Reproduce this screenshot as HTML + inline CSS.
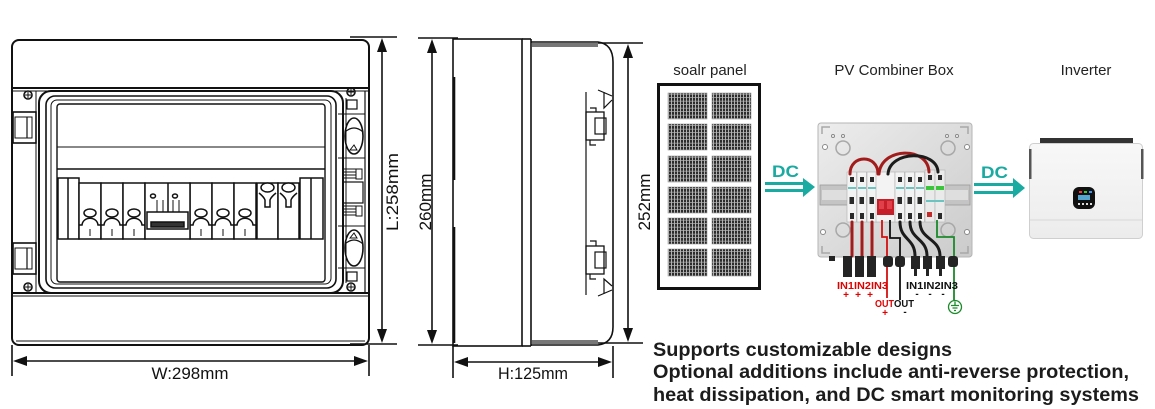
<!DOCTYPE html>
<html><head><meta charset="utf-8">
<style>
html,body{margin:0;padding:0;background:#fff;}
svg{display:block;}
text{font-family:"Liberation Sans",Arial,sans-serif;}
</style></head><body>
<svg width="1155" height="409" viewBox="0 0 1155 409" xmlns="http://www.w3.org/2000/svg">
<defs>
<pattern id="cell" width="3" height="3.5" patternUnits="userSpaceOnUse">
 <rect width="3" height="3.5" fill="#2c2c2c"/>
 <rect x="2.2" width="0.8" height="3.5" fill="#d0d0d0"/>
 <rect y="2.8" width="3" height="0.7" fill="#b8b8b8"/>
</pattern>
<linearGradient id="boxg" x1="0" y1="0" x2="1" y2="1">
 <stop offset="0" stop-color="#ededed"/><stop offset="1" stop-color="#cbcbcb"/>
</linearGradient>
<linearGradient id="invg" x1="0" y1="0" x2="0" y2="1">
 <stop offset="0" stop-color="#f8f8f8"/><stop offset="1" stop-color="#ececec"/>
</linearGradient>
</defs>

<!-- ================= FRONT VIEW ================= -->
<g fill="none" stroke="#111" stroke-width="1.6">
 <rect x="12" y="40" width="357" height="305" rx="7" stroke-width="2"/>
 <line x1="12" y1="88" x2="369" y2="88" stroke-width="2"/>
 <line x1="12" y1="91" x2="369" y2="91" stroke-width="1"/>
 <line x1="12" y1="293" x2="369" y2="293" stroke-width="2"/>
 <line x1="12" y1="296" x2="369" y2="296" stroke-width="1"/>
 <line x1="16" y1="341" x2="365" y2="341" stroke-width="1"/>
 <!-- door -->
 <rect x="39" y="91" width="304" height="202" rx="12" stroke-width="2"/>
 <rect x="46" y="96" width="290" height="192" rx="9"/>
 <rect x="51" y="100" width="280" height="184" rx="6" stroke-width="1"/>
 <rect x="57" y="104" width="268" height="178" rx="3" stroke-width="1.4"/>
 <line x1="57" y1="147" x2="325" y2="147" stroke-width="1"/>
 <line x1="57" y1="169" x2="325" y2="169" stroke-width="1.6"/>
 <!-- left hinges -->
 <line x1="36" y1="91" x2="36" y2="293" stroke-width="1"/>
 <rect x="13" y="112" width="23" height="31"/>
 <rect x="15" y="117" width="17" height="21" stroke-width="1"/>
 <line x1="27" y1="117" x2="27" y2="138" stroke-width="1.2"/>
 <rect x="13" y="243" width="23" height="31"/>
 <rect x="15" y="248" width="17" height="21" stroke-width="1"/>
 <line x1="27" y1="248" x2="27" y2="269" stroke-width="1.2"/>
 <!-- screws -->
 <circle cx="28" cy="95" r="4"/><path d="M25 95h6M28 92v6" stroke-width="1"/>
 <circle cx="28" cy="287" r="4"/><path d="M25 287h6M28 284v6" stroke-width="1"/>
 <circle cx="351" cy="92" r="4"/><path d="M348 92h6M351 89v6" stroke-width="1"/>
 <circle cx="351" cy="287" r="4"/><path d="M348 287h6M351 284v6" stroke-width="1"/>
 <!-- right latch strip -->
 <line x1="346" y1="98" x2="346" y2="283" stroke-width="1"/>
 <line x1="365" y1="91" x2="365" y2="293" stroke-width="1.2"/>
 <rect x="347" y="100" width="10" height="9" stroke-width="1.2"/>
 <line x1="338" y1="114" x2="365" y2="114" stroke-width="1"/>
 <ellipse cx="354" cy="136" rx="9" ry="18" stroke-width="1.6"/>
 <path d="M345 132 Q354 124 363 132" stroke-width="1.2"/>
 <path d="M350 150 L354 145 L357 150 Z" stroke-width="1"/>
 <line x1="338" y1="158" x2="365" y2="158" stroke-width="1"/>
 <path d="M344 169h12M344 172h12M344 175h12M344 178h12" stroke-width="1"/>
 <rect x="356" y="169" width="6" height="10" stroke-width="1"/>
 <rect x="343" y="182" width="20" height="21" stroke-width="1.2"/>
 <path d="M344 206h12M344 209h12M344 212h12M344 215h12" stroke-width="1"/>
 <rect x="356" y="206" width="6" height="10" stroke-width="1"/>
 <line x1="338" y1="226" x2="365" y2="226" stroke-width="1"/>
 <ellipse cx="354" cy="248" rx="9" ry="18" stroke-width="1.6"/>
 <path d="M350 238 L354 233 L357 238 Z" stroke-width="1"/>
 <path d="M345 244 Q354 236 363 244" stroke-width="1.2"/>
 <line x1="338" y1="268" x2="365" y2="268" stroke-width="1"/>
 <rect x="347" y="272" width="10" height="9" stroke-width="1.2"/>
</g>

<!-- breaker row -->
<g fill="#fff" stroke="#111" stroke-width="1.5">
 <rect x="58" y="178" width="21" height="61"/>
 <line x1="68" y1="178" x2="68" y2="239"/>
 <rect x="300" y="178" width="23" height="61"/>
 <line x1="311" y1="178" x2="311" y2="239"/>
 <!-- single modules -->
 <g id="m1">
  <rect x="79" y="183" width="22" height="56"/>
  <ellipse cx="90" cy="213" rx="6" ry="4"/>
  <path d="M79 225 H82 C83 216 97 216 98 225 H101" fill="none"/>
  <line x1="90" y1="229" x2="90" y2="236" stroke-width="1"/>
 </g>
 <use href="#m1" x="22"/>
 <use href="#m1" x="44"/>
 <use href="#m1" x="111"/>
 <use href="#m1" x="133"/>
 <use href="#m1" x="155"/>
 <!-- 2-pole -->
 <rect x="145" y="183" width="45" height="56"/>
 <line x1="168" y1="183" x2="168" y2="212"/>
 <ellipse cx="153" cy="196" rx="2.5" ry="2"/>
 <ellipse cx="175" cy="196" rx="2.5" ry="2"/>
 <path d="M157 200v12M163 200v12M173 200v12M179 200v12" stroke-width="1"/>
 <rect x="147" y="212" width="41" height="17"/>
 <rect x="151" y="222" width="33" height="5" fill="#333"/>
 <!-- SPD -->
 <g id="s1">
  <rect x="257" y="183" width="21" height="56"/>
  <ellipse cx="267.5" cy="187.5" rx="6.5" ry="4.5"/>
  <path d="M259 193 Q264 197 265 200 V207 H270 V200 Q271 197 276 193" fill="none"/>
 </g>
 <use href="#s1" x="21"/>
</g>

<!-- front dimensions -->
<g stroke="#111" stroke-width="1.6" fill="#111">
 <line x1="350" y1="37" x2="397" y2="37"/>
 <line x1="350" y1="344" x2="397" y2="344"/>
 <line x1="382" y1="45" x2="382" y2="336"/>
 <path d="M382 38 L377 52 L387 52 Z" stroke="none"/>
 <path d="M382 343 L377 329 L387 329 Z" stroke="none"/>
 <line x1="12" y1="345" x2="12" y2="376"/>
 <line x1="369" y1="345" x2="369" y2="376"/>
 <line x1="20" y1="361" x2="361" y2="361"/>
 <path d="M13 361 L27 356 L27 366 Z" stroke="none"/>
 <path d="M368 361 L354 356 L354 366 Z" stroke="none"/>
</g>
<text x="190" y="379" font-size="16.5" text-anchor="middle" fill="#111" textLength="77" lengthAdjust="spacingAndGlyphs">W:298mm</text>
<text transform="translate(398,192) rotate(-90)" font-size="17" text-anchor="middle" fill="#111" textLength="78" lengthAdjust="spacingAndGlyphs">L:258mm</text>

<!-- ================= SIDE VIEW ================= -->
<g fill="none" stroke="#111" stroke-width="1.6">
 <rect x="453" y="39" width="69" height="307"/>
 <line x1="454" y1="77" x2="454" y2="180" stroke-width="2.6"/>
 <line x1="454" y1="227" x2="454" y2="343" stroke-width="2.6"/>
 <line x1="531" y1="39" x2="531" y2="346"/>
 <line x1="522" y1="39" x2="531" y2="39"/>
 <line x1="522" y1="346" x2="531" y2="346"/>
 <path d="M531 42 H598 Q613 44 613 62 V327 Q613 343 598 345 H531"/>
 <line x1="586" y1="92" x2="586" y2="295" stroke-width="1.2"/>
 <!-- upper latch -->
 <path d="M598 90 L612 96 M604 92 L604 108 L612 100" stroke-width="1.2"/>
 <rect x="586" y="112" width="18" height="28" stroke-width="1.3"/>
 <rect x="595" y="118" width="11" height="16" stroke-width="1.2"/>
 <path d="M590 108h6v4M590 140v5h6" stroke-width="1.2"/>
 <!-- lower latch -->
 <rect x="586" y="246" width="18" height="28" stroke-width="1.3"/>
 <rect x="595" y="252" width="11" height="16" stroke-width="1.2"/>
 <path d="M590 241h6v5M590 274v5h6" stroke-width="1.2"/>
 <path d="M598 296 L612 290 M604 294 L604 279 L612 286" stroke-width="1.2"/>
</g>
<rect x="532" y="43" width="66" height="4" fill="#777"/>
<rect x="532" y="340" width="66" height="4" fill="#777"/>
<g stroke="#111" stroke-width="1.6" fill="#111">
 <line x1="418" y1="38" x2="458" y2="38"/>
 <line x1="418" y1="345" x2="458" y2="345"/>
 <line x1="432" y1="46" x2="432" y2="337"/>
 <path d="M432 39 L427 53 L437 53 Z" stroke="none"/>
 <path d="M432 344 L427 330 L437 330 Z" stroke="none"/>
 <line x1="598" y1="43" x2="643" y2="43"/>
 <line x1="598" y1="343" x2="643" y2="343"/>
 <line x1="628" y1="51" x2="628" y2="335"/>
 <path d="M628 44 L623 58 L633 58 Z" stroke="none"/>
 <path d="M628 342 L623 328 L633 328 Z" stroke="none"/>
 <line x1="453" y1="346" x2="453" y2="378"/>
 <line x1="613" y1="346" x2="613" y2="378"/>
 <line x1="461" y1="362" x2="605" y2="362"/>
 <path d="M454 362 L468 357 L468 367 Z" stroke="none"/>
 <path d="M612 362 L598 357 L598 367 Z" stroke="none"/>
</g>
<text transform="translate(431,202) rotate(-90)" font-size="17" text-anchor="middle" fill="#111" textLength="57" lengthAdjust="spacingAndGlyphs">260mm</text>
<text transform="translate(650,202) rotate(-90)" font-size="17" text-anchor="middle" fill="#111" textLength="57" lengthAdjust="spacingAndGlyphs">252mm</text>
<text x="533" y="379" font-size="16.5" text-anchor="middle" fill="#111" textLength="70" lengthAdjust="spacingAndGlyphs">H:125mm</text>

<!-- ================= SOLAR PANEL ================= -->
<text x="710" y="75" font-size="15" text-anchor="middle" fill="#222">soalr panel</text>
<rect x="658.5" y="84.5" width="101" height="204" fill="#fff" stroke="#111" stroke-width="3"/>
<g fill="url(#cell)" stroke="#999" stroke-width="0.6">
 <rect x="668" y="93" width="39" height="26"/><rect x="712" y="93" width="39" height="26"/>
 <rect x="668" y="124" width="39" height="26"/><rect x="712" y="124" width="39" height="26"/>
 <rect x="668" y="156" width="39" height="26"/><rect x="712" y="156" width="39" height="26"/>
 <rect x="668" y="187" width="39" height="26"/><rect x="712" y="187" width="39" height="26"/>
 <rect x="668" y="218" width="39" height="26"/><rect x="712" y="218" width="39" height="26"/>
 <rect x="668" y="249" width="39" height="27"/><rect x="712" y="249" width="39" height="27"/>
</g>

<!-- DC arrow 1 -->
<text x="772" y="177" font-size="17" font-weight="bold" fill="#19aaa2" textLength="27" lengthAdjust="spacingAndGlyphs">DC</text>
<g fill="#19aaa2">
 <rect x="765" y="182" width="42" height="3"/>
 <rect x="765" y="189" width="42" height="3"/>
 <path d="M803 178 L815 187 L803 197 Z"/>
</g>

<!-- ================= COMBINER BOX ================= -->
<text x="894" y="75" font-size="15" text-anchor="middle" fill="#222">PV Combiner Box</text>
<rect x="818" y="123" width="154" height="134" rx="3" fill="url(#boxg)" stroke="#b5b5b5" stroke-width="1"/>
<g fill="none" stroke="#a8a8a8" stroke-width="1.5">
 <path d="M822 134 V127 H830"/><path d="M968 134 V127 H960"/>
 <path d="M822 246 V253 H830"/><path d="M968 246 V253 H960"/>
 <circle cx="843" cy="148" r="7"/><circle cx="948" cy="148" r="7"/>
 <circle cx="843" cy="230" r="7"/><circle cx="948" cy="230" r="7"/>
</g>
<g fill="#fff" stroke="#888" stroke-width="1">
 <circle cx="825" cy="147" r="2.5"/><circle cx="967" cy="147" r="2.5"/>
 <circle cx="823" cy="232" r="2.5"/><circle cx="967" cy="232" r="2.5"/>
 <circle cx="833" cy="136" r="1.5"/><circle cx="843" cy="136" r="1.5"/>
 <circle cx="947" cy="136" r="1.5"/><circle cx="957" cy="136" r="1.5"/>
</g>
<!-- DIN rail -->
<rect x="820" y="185" width="150" height="20" fill="#c4c4c4" stroke="#9a9a9a" stroke-width="0.8"/>
<rect x="822" y="190" width="146" height="10" fill="#dedede"/>
<!-- modules -->
<g stroke="#b0b0b0" stroke-width="0.6">
 <rect x="847" y="172" width="9.5" height="50" fill="#f3f3f3"/>
 <rect x="857" y="172" width="9.5" height="50" fill="#f3f3f3"/>
 <rect x="867" y="172" width="9.5" height="50" fill="#f3f3f3"/>
 <rect x="876" y="172" width="19" height="50" fill="#f3f3f3"/>
 <rect x="895" y="172" width="9.5" height="50" fill="#f3f3f3"/>
 <rect x="905" y="172" width="9.5" height="50" fill="#f3f3f3"/>
 <rect x="915" y="172" width="9.5" height="50" fill="#f3f3f3"/>
 <rect x="925" y="170" width="10" height="52" fill="#eaeaea"/>
 <rect x="935" y="170" width="10" height="52" fill="#eaeaea"/>
</g>
<g fill="#2a2a2a">
 <rect x="850" y="177" width="4" height="5"/><rect x="860" y="177" width="4" height="5"/><rect x="870" y="177" width="4" height="5"/>
 <rect x="898" y="177" width="4" height="5"/><rect x="908" y="177" width="4" height="5"/><rect x="918" y="177" width="4" height="5"/>
 <rect x="849.5" y="197" width="4.5" height="7"/><rect x="859.5" y="197" width="4.5" height="7"/><rect x="869.5" y="197" width="4.5" height="7"/>
 <rect x="897.5" y="197" width="4.5" height="7"/><rect x="907.5" y="197" width="4.5" height="7"/><rect x="917.5" y="197" width="4.5" height="7"/>
 <rect x="850" y="213" width="4" height="6"/><rect x="860" y="213" width="4" height="6"/><rect x="870" y="213" width="4" height="6"/>
 <rect x="898" y="213" width="4" height="6"/><rect x="908" y="213" width="4" height="6"/><rect x="918" y="213" width="4" height="6"/>
 <rect x="928" y="175" width="4" height="5"/><rect x="938" y="175" width="4" height="5"/>
 <rect x="938" y="213" width="4" height="6"/>
</g>
<g fill="#6cc4c0">
 <rect x="848" y="187" width="8" height="2"/><rect x="858" y="187" width="8" height="2"/><rect x="868" y="187" width="8" height="2"/>
 <rect x="896" y="187" width="8" height="2"/><rect x="906" y="187" width="8" height="2"/><rect x="916" y="187" width="8" height="2"/>
 <rect x="926" y="200" width="18" height="2"/>
</g>
<rect x="926" y="186" width="8" height="4" fill="#3cc43c"/>
<rect x="936" y="186" width="8" height="4" fill="#3cc43c"/>
<rect x="877" y="199" width="17" height="16" fill="#c61f2a"/>
<rect x="879" y="201" width="5" height="8" fill="#e0404a"/>
<rect x="887" y="201" width="5" height="8" fill="#e0404a"/>
<rect x="927" y="212" width="5" height="5" fill="#c42a2a"/>
<!-- wires -->
<g fill="none" stroke-width="3" stroke-linecap="round">
 <path d="M850 174 C850 154 878 154 878 174" stroke="#a31c1c"/>
 <path d="M879 174 C881 147 928 146 929 172" stroke="#a31c1c"/>
 <path d="M888 174 C890 150 937 150 938 172" stroke="#1b1b1b"/>
 <path d="M852 222 V256" stroke="#a31c1c"/>
 <path d="M862 222 V256" stroke="#a31c1c"/>
 <path d="M872 222 V256" stroke="#a31c1c"/>
 <path d="M900 222 C900 240 915 238 915 256" stroke="#1b1b1b"/>
 <path d="M910 222 C910 240 927 238 927 256" stroke="#1b1b1b"/>
 <path d="M920 222 C920 240 940 238 940 256" stroke="#1b1b1b"/>
</g>
<g fill="none" stroke-width="1.8">
 <path d="M882 220 V237 H887 V298" stroke="#d41010"/>
 <path d="M890 220 V238 H900 V300" stroke="#111"/>
 <path d="M937 220 V237 H954 V300" stroke="#1b8a2b"/>
</g>
<!-- connectors -->
<g fill="#242424">
 <rect x="829" y="256" width="6" height="5"/>
 <rect x="843" y="256" width="9" height="21"/>
 <rect x="855" y="256" width="9" height="21"/>
 <rect x="867" y="256" width="9" height="21"/>
 <rect x="883" y="256" width="10" height="11" rx="3"/>
 <rect x="895" y="256" width="10" height="11" rx="3"/>
 <rect x="911" y="256" width="9" height="13"/>
 <rect x="923" y="256" width="9" height="13"/>
 <rect x="936" y="256" width="9" height="13"/>
 <rect x="914" y="269" width="3" height="7"/>
 <rect x="926" y="269" width="3" height="7"/>
 <rect x="939" y="269" width="3" height="7"/>
 <rect x="948" y="256" width="10" height="11" rx="3"/>
</g>
<!-- labels -->
<g font-size="10" font-weight="bold">
 <text x="837" y="289" fill="#e00000" textLength="51" lengthAdjust="spacingAndGlyphs">IN1IN2IN3</text>
 <text x="906" y="289" fill="#111" textLength="52" lengthAdjust="spacingAndGlyphs">IN1IN2IN3</text>
 <text x="875" y="307" fill="#e00000" textLength="19" lengthAdjust="spacingAndGlyphs">OUT</text>
 <text x="894" y="307" fill="#111" textLength="20" lengthAdjust="spacingAndGlyphs">OUT</text>
</g>
<g font-size="10" font-weight="bold" text-anchor="middle">
 <text x="846" y="298" fill="#e00000">+</text>
 <text x="858" y="298" fill="#e00000">+</text>
 <text x="870" y="298" fill="#e00000">+</text>
 <text x="885" y="316" fill="#e00000">+</text>
 <text x="917" y="297" fill="#111">-</text>
 <text x="930" y="297" fill="#111">-</text>
 <text x="943" y="297" fill="#111">-</text>
 <text x="905" y="315" fill="#111">-</text>
</g>
<g fill="none" stroke="#1b8a2b" stroke-width="1.3">
 <circle cx="955" cy="307" r="6.5"/>
 <path d="M955 301.5 V305.5 M951 305.5 H959 M952.5 308 H957.5 M954 310.5 H956"/>
</g>

<!-- DC arrow 2 -->
<text x="981" y="178" font-size="17" font-weight="bold" fill="#19aaa2" textLength="27" lengthAdjust="spacingAndGlyphs">DC</text>
<g fill="#19aaa2">
 <rect x="974" y="183" width="43" height="3"/>
 <rect x="974" y="191" width="43" height="3"/>
 <path d="M1013 178 L1025 188 L1013 198 Z"/>
</g>

<!-- ================= INVERTER ================= -->
<text x="1086" y="75" font-size="15" text-anchor="middle" fill="#222">Inverter</text>
<rect x="1040" y="138" width="93" height="6" fill="#333"/>
<rect x="1029.5" y="143.5" width="113" height="95" rx="4" fill="url(#invg)" stroke="#cfcfcf" stroke-width="1"/>
<rect x="1029" y="149" width="2.5" height="30" fill="#555"/>
<rect x="1141" y="149" width="2.5" height="30" fill="#555"/>
<line x1="1030" y1="220" x2="1142" y2="220" stroke="#d8d8d8" stroke-width="1"/>
<rect x="1073" y="187" width="22" height="22" rx="6" fill="#111"/>
<rect x="1079" y="191" width="3" height="2" fill="#f33"/><rect x="1084" y="191" width="3" height="2" fill="#3c3"/><rect x="1089" y="191" width="3" height="2" fill="#39f"/>
<rect x="1078" y="195" width="12" height="5" fill="#6cf" opacity="0.8"/>
<rect x="1078" y="203" width="2" height="2" fill="#ddd"/><rect x="1082" y="203" width="2" height="2" fill="#ddd"/><rect x="1086" y="203" width="2" height="2" fill="#ddd"/><rect x="1090" y="203" width="2" height="2" fill="#ddd"/>

<!-- ================= TEXT BLOCK ================= -->
<g font-size="19" font-weight="bold" fill="#1c1c1c">
 <text x="653" y="356" textLength="299" lengthAdjust="spacingAndGlyphs">Supports customizable designs</text>
 <text x="653" y="378" textLength="476" lengthAdjust="spacingAndGlyphs">Optional additions include anti-reverse protection,</text>
 <text x="653" y="401" textLength="486" lengthAdjust="spacingAndGlyphs">heat dissipation, and DC smart monitoring systems</text>
</g>
</svg>
</body></html>
